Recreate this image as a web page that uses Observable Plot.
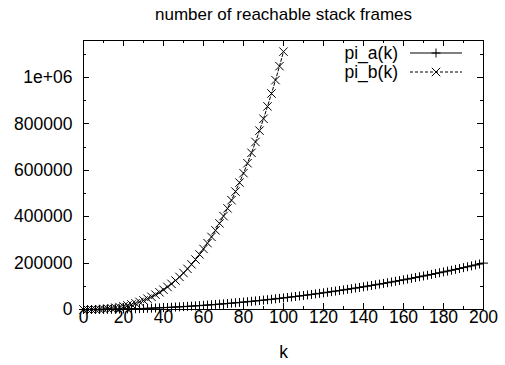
<!DOCTYPE html>
<html><head><meta charset="utf-8">
<script src="https://cdn.jsdelivr.net/npm/d3@7"></script>
<script src="https://cdn.jsdelivr.net/npm/@observablehq/plot@0.6"></script>
<style>html,body{margin:0;padding:0;background:#fff} svg{display:block}</style>
</head><body><div id="chart"></div>
<script>
const title = "number of reachable stack frames";
const xLabel = "k";
const seriesNames = ["pi_a(k)", "pi_b(k)"];
const kA = [0,2,4,6,8,10,12,14,16,18,20,22,24,26,28,30,32,34,36,38,40,42,44,46,48,50,52,54,56,58,60,62,64,66,68,70,72,74,76,78,80,82,84,86,88,90,92,94,96,98,100,102,104,106,108,110,112,114,116,118,120,122,124,126,128,130,132,134,136,138,140,142,144,146,148,150,152,154,156,158,160,162,164,166,168,170,172,174,176,178,180,182,184,186,188,190,192,194,196,198,200];
const piA = [0,20,80,180,320,500,720,980,1280,1620,2000,2420,2880,3380,3920,4500,5120,5780,6480,7220,8000,8820,9680,10580,11520,12500,13520,14580,15680,16820,18000,19220,20480,21780,23120,24500,25920,27380,28880,30420,32000,33620,35280,36980,38720,40500,42320,44180,46080,48020,50000,52020,54080,56180,58320,60500,62720,64980,67280,69620,72000,74420,76880,79380,81920,84500,87120,89780,92480,95220,98000,100820,103680,106580,109520,112500,115520,118580,121680,124820,128000,131220,134480,137780,141120,144500,147920,151380,154880,158420,162000,165620,169280,172980,176720,180500,184320,188180,192080,196020,200000];
const kB = [0,2,4,6,8,10,12,14,16,18,20,22,24,26,28,30,32,34,36,38,40,42,44,46,48,50,52,54,56,58,60,62,64,66,68,70,72,74,76,78,80,82,84,86,88,90,92,94,96,98,100];
const piB = [0,70,300,730,1400,2400,3800,5500,7700,10400,13600,17400,21800,26800,32700,39200,46600,54800,64000,74100,85200,97300,110600,124900,140500,157300,175300,194700,215400,237600,261200,286300,313000,341300,371300,402900,436200,471400,508400,547200,588000,630800,675600,722400,771400,822500,875800,931400,989200,1049400,1112000];
const xTicks = [0,20,40,60,80,100,120,140,160,180,200];
const xMinor = [10,30,50,70,90,110,130,150,170,190];
const yTicks = [0,200000,400000,600000,800000,1000000];
const yTickLabels = ["0","200000","400000","600000","800000","1e+06"];
const yMinor = [100000,300000,500000,700000,900000,1100000];

const dataA = kA.map((k, i) => ({k, v: piA[i]}));
const dataB = kB.map((k, i) => ({k, v: piB[i]}));
const font = "'Liberation Sans', Arial, Helvetica, sans-serif";
const fs = 17.5;
const W = 505, H = 365, mL = 83, mR = 22, mT = 40, mB = 56;
const rPlus = 3.0, rTimes = 3.9;

// inward tick marks placed through the x/y scales
const tickMarks = (axis, vals, len, side) => Plot.ruleX([0], {
  stroke: "#000", strokeWidth: 1,
  render: (index, scales, values, dims, ctx) => {
    const g = d3.create("svg:g").attr("stroke", "#000").attr("stroke-width", 1).attr("fill", "none");
    const top = dims.marginTop, bot = dims.height - dims.marginBottom;
    const left = dims.marginLeft, right = dims.width - dims.marginRight;
    for (const v of vals) {
      if (axis === "x") {
        const x = Math.round(scales.x(v)) + 0.5;
        const y0 = side === "bottom" ? bot : top, y1 = side === "bottom" ? bot - len : top + len;
        g.append("line").attr("x1", x).attr("x2", x).attr("y1", y0).attr("y2", y1);
      } else {
        const y = Math.round(scales.y(v)) + 0.5;
        const x0 = side === "left" ? left : right, x1 = side === "left" ? left + len : right - len;
        g.append("line").attr("x1", x0).attr("x2", x1).attr("y1", y).attr("y2", y);
      }
    }
    return g.node();
  }
});

const plot = Plot.plot({
  width: W, height: H,
  marginLeft: mL, marginRight: mR, marginTop: mT, marginBottom: mB,
  style: {fontFamily: font, fontSize: fs + "px", background: "#fff", color: "#000"},
  x: {domain: [0, 200]},
  y: {domain: [0, 1160000]},
  marks: [
    Plot.line(dataA, {x: "k", y: "v", stroke: "#000", strokeWidth: 1}),
    Plot.dot(dataA, {x: "k", y: "v", symbol: "plus", r: rPlus, stroke: "#000", strokeWidth: 1}),
    Plot.line(dataB, {x: "k", y: "v", stroke: "#000", strokeWidth: 1, strokeDasharray: "3,2"}),
    Plot.dot(dataB, {x: "k", y: "v", symbol: "times", r: rTimes, stroke: "#000", strokeWidth: 1}),
    Plot.frame({stroke: "#000", strokeWidth: 1}),
    tickMarks("x", xTicks, 6, "bottom"), tickMarks("x", xTicks, 6, "top"),
    tickMarks("x", xMinor, 3, "bottom"), tickMarks("x", xMinor, 3, "top"),
    tickMarks("y", yTicks, 6, "left"), tickMarks("y", yTicks, 6, "right"),
    tickMarks("y", yMinor, 3, "left"), tickMarks("y", yMinor, 3, "right"),
    // tick labels
    Plot.axisX({anchor: "bottom", ticks: xTicks, tickSize: 0, tickPadding: 1, label: null, fontSize: fs}),
    Plot.axisY({anchor: "left", ticks: yTicks, tickSize: 0, tickPadding: 11, label: null, fontSize: fs,
      tickFormat: d => yTickLabels[yTicks.indexOf(d)]}),
    Plot.text([xLabel], {frameAnchor: "bottom", dy: 43, lineAnchor: "middle", fontSize: fs, fill: "#000"}),
    Plot.text([title], {frameAnchor: "top", dy: -26, lineAnchor: "middle", fontSize: 17, fill: "#000"})
  ]
});

// legend (top-right inside the frame)
const svg = d3.select(plot);
const leg = svg.append("g").attr("font-family", font).attr("font-size", fs);
const rows = [
  {name: seriesNames[0], y: 53, dash: null, sym: d3.symbolPlus, size: Math.PI * rPlus * rPlus},
  {name: seriesNames[1], y: 72, dash: "3,2", sym: d3.symbolTimes, size: Math.PI * rTimes * rTimes}
];
rows.forEach(r => {
  leg.append("text").attr("x", 398).attr("y", r.y).attr("dy", "0.35em")
    .attr("text-anchor", "end").attr("fill", "#000").text(r.name);
  leg.append("line").attr("x1", 410).attr("x2", 462).attr("y1", r.y).attr("y2", r.y)
    .attr("stroke", "#000").attr("stroke-width", 1).attr("stroke-dasharray", r.dash);
  leg.append("path").attr("transform", `translate(436,${r.y})`)
    .attr("d", d3.symbol(r.sym, r.size)()).attr("fill", "none").attr("stroke", "#000");
});

document.getElementById("chart").appendChild(plot);
</script>
</body></html>
